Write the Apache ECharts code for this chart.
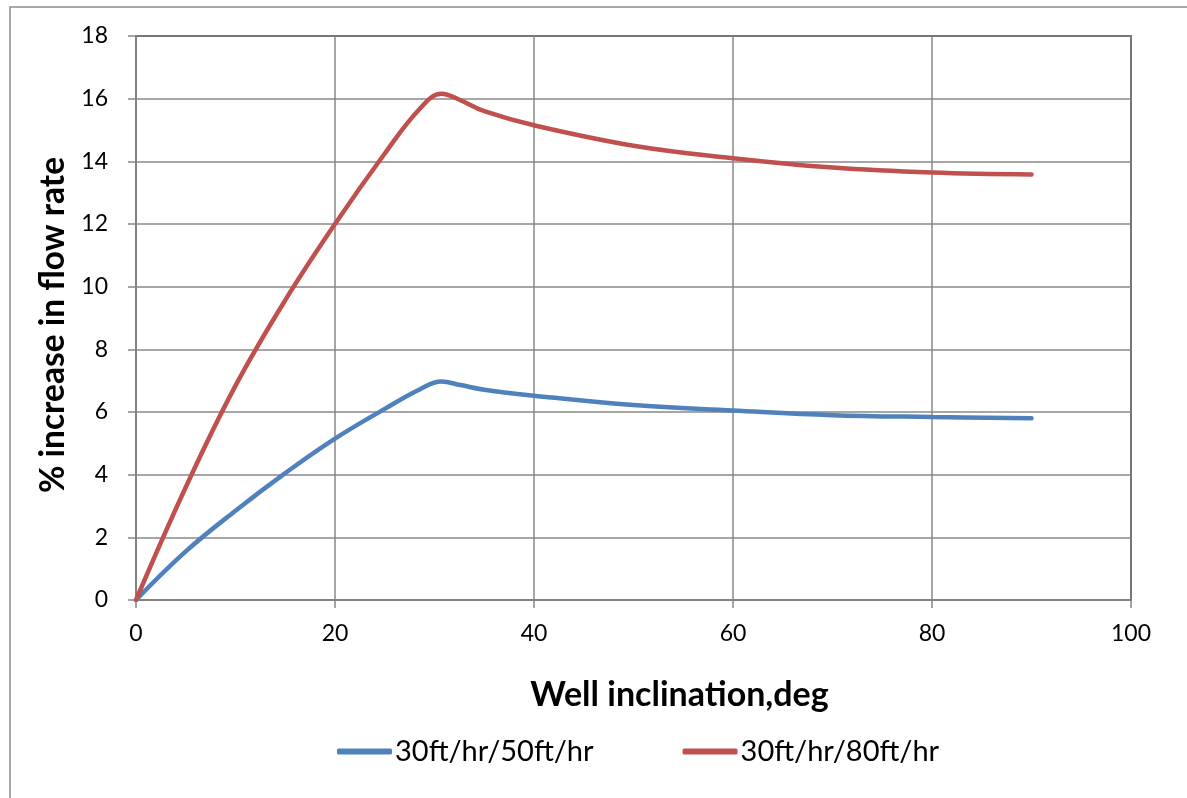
<!DOCTYPE html>
<html>
<head>
<meta charset="utf-8">
<script src="https://cdn.jsdelivr.net/npm/echarts@6/dist/echarts.min.js"></script>
<style>
  html, body { margin: 0; padding: 0; background: #fff; }
  #chart { width: 1187px; height: 798px; }
</style>
</head>
<body>
<div id="chart"></div>
<script>
// well inclination (deg)
var inclination = [0, 5, 10, 15, 20, 25, 28.5, 30.7, 32.6, 35, 40, 50, 60, 70, 80, 90];
// % increase in flow rate
var rate50 = [0, 1.55, 2.85, 4.05, 5.15, 6.1, 6.72, 6.97, 6.86, 6.71, 6.52, 6.22, 6.05, 5.9, 5.84, 5.8];
var rate80 = [0, 3.6, 6.84, 9.57, 12.0, 14.25, 15.67, 16.16, 15.95, 15.6, 15.15, 14.5, 14.1, 13.8, 13.64, 13.58];
var seriesNames = ['30ft/hr/50ft/hr', '30ft/hr/80ft/hr'];

var font = 'Lato, "Open Sans", sans-serif';

function pairs(ys) {
  return inclination.map(function (x, i) { return [x, ys[i]]; });
}

var chart = echarts.init(document.getElementById('chart'));

var option = {
  animation: false,
  textStyle: { fontFamily: font },
  graphic: [
    {
      type: 'rect',
      shape: { x: 10, y: 7, width: 1200, height: 820 },
      style: { fill: 'none', stroke: '#8c8c8c', lineWidth: 1.5 },
      silent: true
    }
  ],
  grid: {
    left: 136, top: 36, right: 56, bottom: 198,
    show: true, borderColor: '#000', borderWidth: 1.5
  },
  legend: {
    left: 332, top: 732,
    itemWidth: 55, itemHeight: 6, itemGap: 89,
    icon: 'roundRect',
    textStyle: { fontFamily: font, fontSize: 29, color: '#000', padding: [0, 0, 0, -2] },
    data: seriesNames
  },
  xAxis: {
    type: 'value', min: 0, max: 100, interval: 20,
    name: 'Well inclination,deg',
    nameLocation: 'middle', nameGap: 78,
    nameTextStyle: { fontFamily: font, fontSize: 34, fontWeight: 'bold', color: '#000', padding: [0, 0, 0, 92] },
    axisLine: { show: true, lineStyle: { color: '#868686', width: 1.5 } },
    axisTick: { show: true, inside: false, length: 8, lineStyle: { color: '#868686', width: 1.5 } },
    axisLabel: { fontSize: 23, color: '#000', margin: 22 },
    splitLine: { show: true, lineStyle: { color: '#898989', width: 1.5 } }
  },
  yAxis: {
    type: 'value', min: 0, max: 18, interval: 2,
    name: '% increase in flow rate',
    nameLocation: 'middle', nameGap: 61,
    nameTextStyle: { fontFamily: font, fontSize: 33.5, fontWeight: 'bold', color: '#000', padding: [0, 14, 0, 0] },
    axisLine: { show: true, lineStyle: { color: '#868686', width: 1.5 } },
    axisTick: { show: true, inside: false, length: 8, lineStyle: { color: '#868686', width: 1.5 } },
    axisLabel: { fontSize: 23, color: '#000', margin: 28 },
    splitLine: { show: true, lineStyle: { color: '#898989', width: 1.5 } }
  },
  series: [
    {
      name: seriesNames[0], type: 'line', data: pairs(rate50),
      smooth: 0.4, symbol: 'none',
      itemStyle: { color: '#4F81BD' },
      lineStyle: { color: '#4F81BD', width: 4.5, cap: 'round' }
    },
    {
      name: seriesNames[1], type: 'line', data: pairs(rate80),
      smooth: 0.4, symbol: 'none',
      itemStyle: { color: '#C0504D' },
      lineStyle: { color: '#C0504D', width: 4.5, cap: 'round' }
    }
  ]
};

chart.setOption(option);
</script>
</body>
</html>
